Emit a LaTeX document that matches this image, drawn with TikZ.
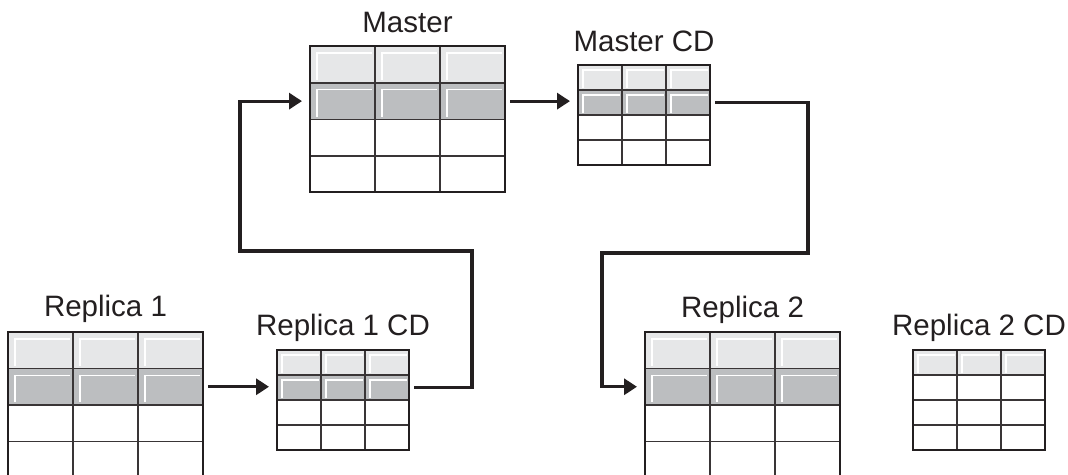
\documentclass[tikz,border=0pt]{standalone}
\usepackage{fontspec}
\setmainfont{Liberation Sans}
\usetikzlibrary{positioning}
\usetikzlibrary{arrows.meta}
\definecolor{ink}{HTML}{231F20}
\definecolor{hdrgray}{HTML}{E6E7E8}
\definecolor{rowgray}{HTML}{BCBEC0}

% #1 table node, #2 cell width, #3 cell height, #4 shaded rows
\newcommand{\dbgrid}[4]{%
  \begin{scope}[shift={(#1.north west)}]
    \fill[hdrgray] (0,0) rectangle (3*#2,#3);
    \ifnum#4>1 \fill[rowgray] (0,#3) rectangle (3*#2,2*#3);\fi
    \foreach \r in {1,...,#4}
      \foreach \c in {0,1,2}
        \draw[bevel] ({\c*#2+0.19*#3},{\r*#3-0.08*#3}) -- ({\c*#2+0.19*#3},{(\r-1)*#3+0.19*#3})
          -- ({(\c+1)*#2-0.08*#3},{(\r-1)*#3+0.19*#3});
    \foreach \c in {1,2}
      \draw[cellline] (\c*#2,0) -- (\c*#2,4*#3);
    \foreach \r in {1,2,3}
      \draw[cellline] (0,\r*#3) -- (3*#2,\r*#3);
    \coordinate (#1-w) at (0,1.5*#3);
    \coordinate (#1-e) at (3*#2,1.5*#3);
  \end{scope}
  \draw[border] (#1.north west) rectangle (#1.south east);
}

\begin{document}
\begin{tikzpicture}[
    x=1pt, y=-1pt,
    tbl/.style={inner sep=0pt,outer sep=0pt,anchor=north west},
    bigtbl/.style={tbl,minimum width=195pt,minimum height=146pt},
    smalltbl/.style={tbl,minimum width=132pt,minimum height=100pt},
    border/.style={draw=ink,line width=2.2pt},
    cellline/.style={draw=ink!90,line width=1.6pt},
    bevel/.style={draw=white,line width=1.5pt},
    lbl/.style={text=ink,font=\fontsize{29.5}{35}\selectfont,anchor=base},
    flow/.style={draw=ink,line width=3.2pt,-{Triangle[length=13pt,width=16pt]},
      shorten <=5pt,shorten >=8pt}
    ]
    \useasboundingbox (0,0) rectangle (1068,474);

    \node[bigtbl] (master) at (310,46) {};
    \node[smalltbl] (mastercd) at (578,65) {};
    \node[bigtbl] (rep1) at (8,332) {};
    \node[smalltbl] (rep1cd) at (277,350) {};
    \node[bigtbl] (rep2) at (645,332) {};
    \node[smalltbl] (rep2cd) at (913,350) {};

    \dbgrid{master}{65}{36.75}{2}
    \dbgrid{mastercd}{44}{25}{2}
    \dbgrid{rep1}{65}{36.5}{2}
    \dbgrid{rep1cd}{44}{25}{2}
    \dbgrid{rep2}{65}{36.5}{2}
    \dbgrid{rep2cd}{44}{25}{1}

    \node[lbl] (masterlbl) at ([yshift=14pt]master.north) {Master};
    \node[lbl] (mastercdlbl) at ([yshift=14pt]mastercd.north) {Master CD};
    \node[lbl] (rep1lbl) at ([yshift=16pt]rep1.north) {Replica 1};
    \node[lbl] (rep1cdlbl) at ([yshift=15pt]rep1cd.north) {Replica 1 CD};
    \node[lbl] (rep2lbl) at ([yshift=15pt]rep2.north) {Replica 2};
    \node[lbl] (rep2cdlbl) at ([yshift=15pt]rep2cd.north) {Replica 2 CD};

    \coordinate (up1) at (472,251);
    \coordinate (up2) at (240,251);
    \coordinate (dn1) at (808,253);
    \coordinate (dn2) at (602,253);

    \draw[flow] (rep1-e) -- (rep1-e -| rep1cd-w);
    \draw[flow] (rep1cd-e) -| (up1) -- (up2) |- (master-w);
    \draw[flow] (master-e) -- (master-e -| mastercd-w);
    \draw[flow] (mastercd-e) -| (dn1) -- (dn2) |- (rep2-w);
  \end{tikzpicture}
\end{document}
